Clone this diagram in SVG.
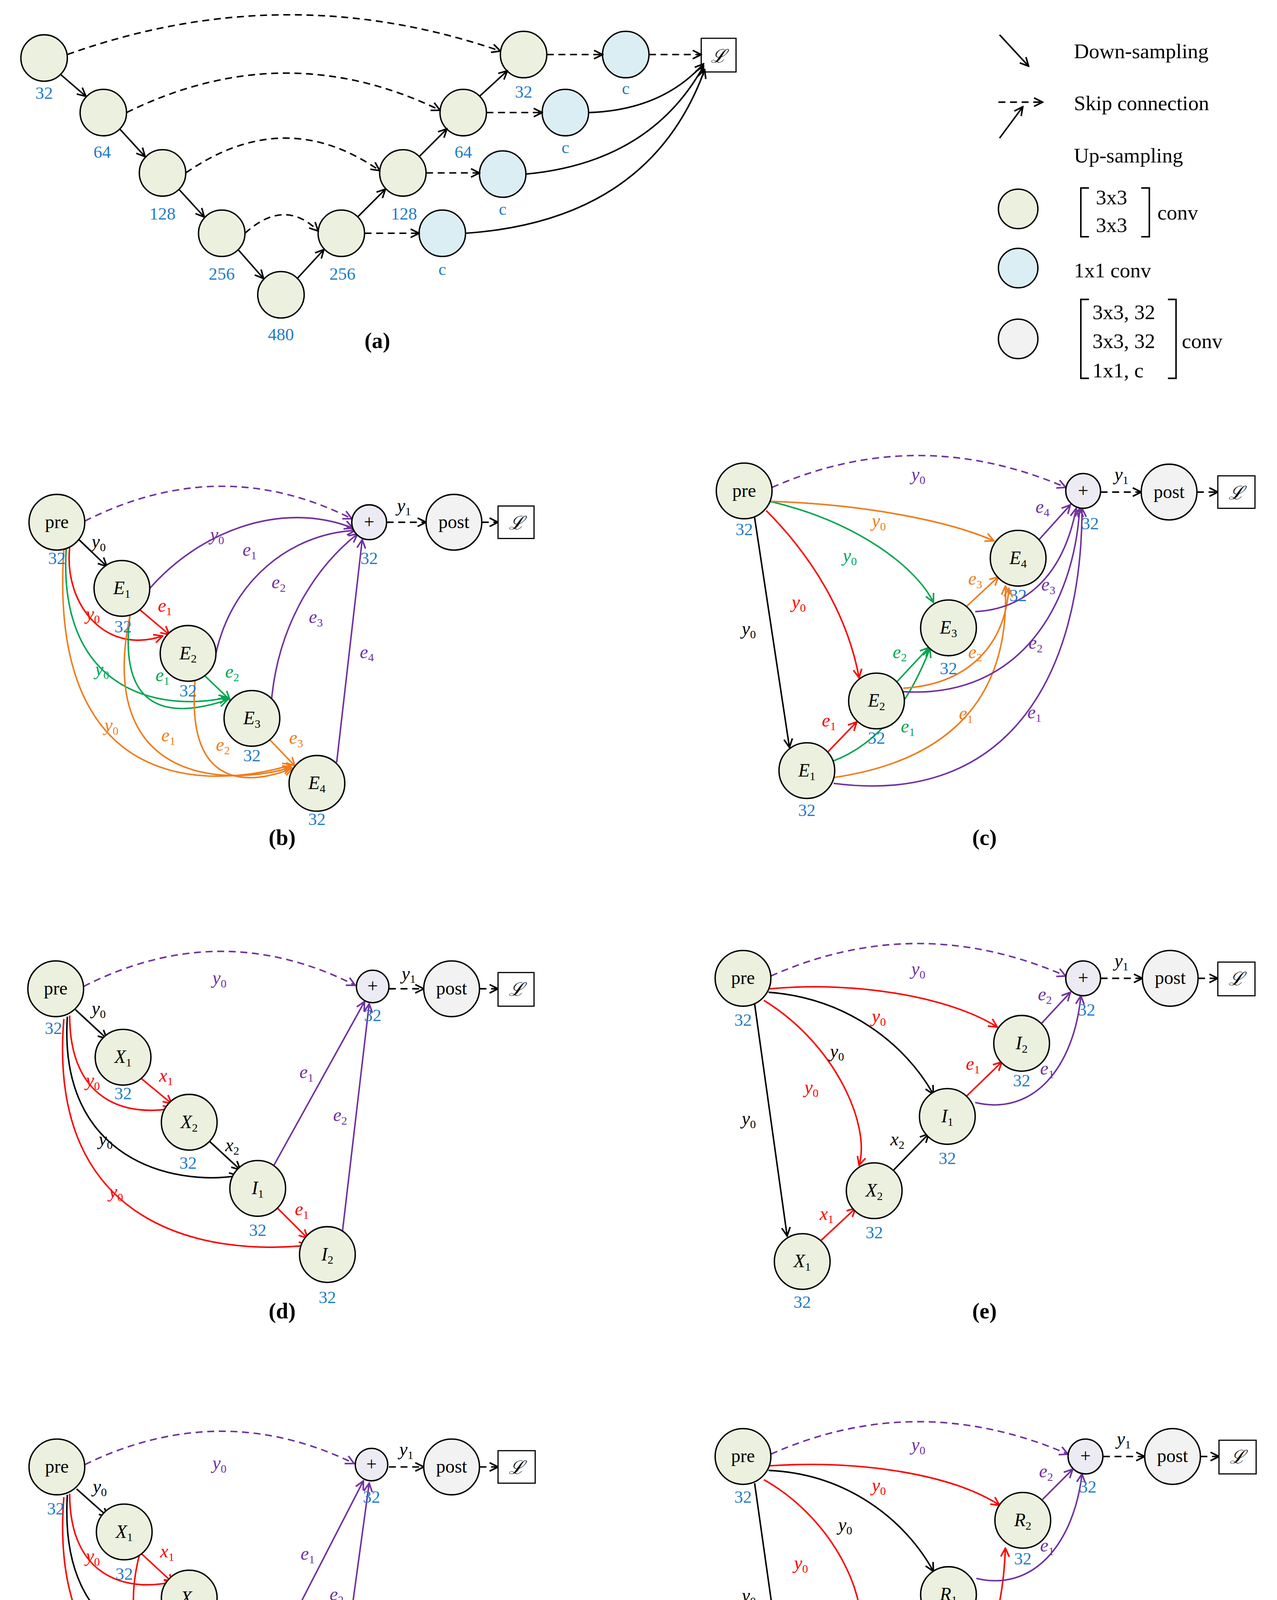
<svg xmlns="http://www.w3.org/2000/svg" width="3268" height="4659" viewBox="0 0 3268 4659">
<style>
text{font-family:"Liberation Serif",serif;font-size:16px;text-anchor:middle}
.n{fill:#1f7bc8;font-size:15px}
.i{font-style:italic}
.s{font-size:10px;font-style:normal}
.b{font-weight:bold;font-size:19px}
.lg{text-anchor:start;font-size:18px}
.g{fill:#ebf1de;stroke:#000;stroke-width:1.2}
.c{fill:#dbeef4;stroke:#000;stroke-width:1.2}
.w{fill:#f2f2f2;stroke:#000;stroke-width:1.2}
.p{fill:#ecebf3;stroke:#000;stroke-width:1.2}
.e{fill:none;stroke-width:1.3}
.k{stroke:#000}.r{stroke:#f00}.gr{stroke:#00a650}.o{stroke:#ee7d1e}.pu{stroke:#7030a0}
.d{stroke-dasharray:6 4}
.tr{fill:#f00}.tg{fill:#00a650}.to{fill:#ee7d1e}.tp{fill:#7030a0}
</style>
<defs>
<marker id="mk" viewBox="0 0 10 10" refX="9" refY="5" markerWidth="7" markerHeight="7" orient="auto"><path d="M1,1L9,5L1,9" fill="none" stroke="#000" stroke-width="1.5"/></marker>
<marker id="mr" viewBox="0 0 10 10" refX="9" refY="5" markerWidth="7" markerHeight="7" orient="auto"><path d="M1,1L9,5L1,9" fill="none" stroke="#f00" stroke-width="1.5"/></marker>
<marker id="mg" viewBox="0 0 10 10" refX="9" refY="5" markerWidth="7" markerHeight="7" orient="auto"><path d="M1,1L9,5L1,9" fill="none" stroke="#00a650" stroke-width="1.5"/></marker>
<marker id="mo" viewBox="0 0 10 10" refX="9" refY="5" markerWidth="7" markerHeight="7" orient="auto"><path d="M1,1L9,5L1,9" fill="none" stroke="#ee7d1e" stroke-width="1.5"/></marker>
<marker id="mp" viewBox="0 0 10 10" refX="9" refY="5" markerWidth="7" markerHeight="7" orient="auto"><path d="M1,1L9,5L1,9" fill="none" stroke="#7030a0" stroke-width="1.5"/></marker>
</defs>
<rect width="3268" height="4659" fill="#fff"/>
<g transform="scale(2.971)">
<!-- Panel a -->
<g id="a-nodes">
<g id="a1"><circle class="g" cx="38" cy="50" r="20"/><text class="n" x="38" y="85">32</text></g>
<g id="a2"><circle class="g" cx="89" cy="97" r="20"/><text class="n" x="88" y="136">64</text></g>
<g id="a3"><circle class="g" cx="140" cy="149" r="20"/><text class="n" x="140" y="189">128</text></g>
<g id="a4"><circle class="g" cx="191" cy="201" r="20"/><text class="n" x="191" y="241">256</text></g>
<g id="a5"><circle class="g" cx="242" cy="254" r="20"/><text class="n" x="242" y="293">480</text></g>
<g id="a6"><circle class="g" cx="294" cy="201" r="20"/><text class="n" x="295" y="241">256</text></g>
<g id="a7"><circle class="g" cx="347" cy="149" r="20"/><text class="n" x="348" y="189">128</text></g>
<g id="a8"><circle class="g" cx="399" cy="97" r="20"/><text class="n" x="399" y="136">64</text></g>
<g id="a9"><circle class="g" cx="451" cy="47" r="20"/><text class="n" x="451" y="84">32</text></g>
<g id="ac1"><circle class="c" cx="539" cy="47" r="20"/><text class="n" x="539" y="81">c</text></g>
<g id="ac2"><circle class="c" cx="487" cy="97" r="20"/><text class="n" x="487" y="132">c</text></g>
<g id="ac3"><circle class="c" cx="433" cy="150" r="20"/><text class="n" x="433" y="185">c</text></g>
<g id="ac4"><circle class="c" cx="381" cy="201" r="20"/><text class="n" x="381" y="237">c</text></g>
<g id="aL"><rect x="604" y="33" width="30" height="29" fill="#fff" stroke="#000"/><text class="i" x="619" y="54" font-size="19">ℒ</text></g>
</g>
<g id="a-edges">
<path class="e k" marker-end="url(#mk)" d="M52,64L74,83"/>
<path class="e k" marker-end="url(#mk)" d="M103,111L125,135"/>
<path class="e k" marker-end="url(#mk)" d="M154,163L176,187"/>
<path class="e k" marker-end="url(#mk)" d="M205,215L227,240"/>
<path class="e k" marker-end="url(#mk)" d="M256,240L279,215"/>
<path class="e k" marker-end="url(#mk)" d="M308,187L332,163"/>
<path class="e k" marker-end="url(#mk)" d="M361,135L385,111"/>
<path class="e k" marker-end="url(#mk)" d="M413,83L437,61"/>
<path class="e k d" marker-end="url(#mk)" d="M58,47Q245,-20 431,44"/>
<path class="e k d" marker-end="url(#mk)" d="M109,97Q245,30 379,95"/>
<path class="e k d" marker-end="url(#mk)" d="M160,149Q245,90 327,147"/>
<path class="e k d" marker-end="url(#mk)" d="M211,201Q245,170 274,199"/>
<path class="e k d" marker-end="url(#mk)" d="M471,47H519"/>
<path class="e k d" marker-end="url(#mk)" d="M419,97H467"/>
<path class="e k d" marker-end="url(#mk)" d="M367,149H413"/>
<path class="e k d" marker-end="url(#mk)" d="M314,201H361"/>
<path class="e k d" marker-end="url(#mk)" d="M559,47H604"/>
<path class="e k" marker-end="url(#mk)" d="M507,97Q570,95 606,55"/>
<path class="e k" marker-end="url(#mk)" d="M453,150Q560,140 606,57"/>
<path class="e k" marker-end="url(#mk)" d="M401,201Q560,190 607,60"/>
</g>
<text class="b" x="325" y="300">(a)</text>
<!-- legend -->
<g id="legend">
<path class="e k" marker-end="url(#mk)" d="M861,30L886,57"/>
<path class="e k d" marker-end="url(#mk)" d="M860,88H898"/>
<path class="e k" marker-end="url(#mk)" d="M861,119L881,92"/>
<text class="lg" x="925" y="50">Down-sampling</text>
<text class="lg" x="925" y="95">Skip connection</text>
<text class="lg" x="925" y="140">Up-sampling</text>
<circle class="g" cx="877" cy="180" r="17"/><circle class="c" cx="877" cy="231" r="17"/><circle class="w" cx="877" cy="292" r="17"/>
<path d="M938,162H931V204H938M983,162H990V204H983M938,258H931V326H938M1006,258H1013V326H1006" fill="none" stroke="#000" stroke-width="1.3"/>
<text class="lg" x="944" y="176">3x3</text><text class="lg" x="944" y="200">3x3</text><text class="lg" x="997" y="189">conv</text>
<text class="lg" x="925" y="239">1x1 conv</text>
<text class="lg" x="941" y="275">3x3, 32</text><text class="lg" x="941" y="300">3x3, 32</text><text class="lg" x="941" y="325">1x1, c</text><text class="lg" x="1018" y="300">conv</text>
</g>

<!-- Panel b -->
<g id="b-edges">
<path class="e pu d" marker-end="url(#mp)" d="M73,449Q190,390 303,447"/>
<path class="e k" marker-end="url(#mk)" d="M68,465L92,488"/>
<path class="e k d" marker-end="url(#mk)" d="M333,450H367"/>
<path class="e k d" marker-end="url(#mk)" d="M415,450H429"/>
<path class="e r" marker-end="url(#mr)" d="M60,472C55,520 90,565 140,548"/>
<path class="e r" marker-end="url(#mr)" d="M120,525L146,547"/>
<path class="e gr" marker-end="url(#mg)" d="M57,473C50,590 130,615 196,601"/>
<path class="e gr" marker-end="url(#mg)" d="M112,530C100,625 160,615 196,603"/>
<path class="e gr" marker-end="url(#mg)" d="M175,581L198,603"/>
<path class="e o" marker-end="url(#mo)" d="M55,473C40,700 200,675 251,659"/>
<path class="e o" marker-end="url(#mo)" d="M112,530C80,685 210,675 251,661"/>
<path class="e o" marker-end="url(#mo)" d="M168,587C160,685 220,675 252,662"/>
<path class="e o" marker-end="url(#mo)" d="M232,637L254,660"/>
<path class="e pu" marker-end="url(#mp)" d="M129,507C170,460 240,430 304,455"/>
<path class="e pu" marker-end="url(#mp)" d="M186,563C200,500 250,460 306,457"/>
<path class="e pu" marker-end="url(#mp)" d="M234,602C240,540 270,490 308,460"/>
<path class="e pu" marker-end="url(#mp)" d="M290,657L312,465"/>
</g>
<g id="b-nodes">
<g id="b-pre"><circle class="g" cx="49" cy="450" r="24"/><text x="49" y="455">pre</text><text class="n" x="49" y="486">32</text></g>
<g id="b-E1"><circle class="g" cx="105" cy="507" r="24"/><text class="i" x="105" y="512">E<tspan class="s" dy="3">1</tspan></text><text class="n" x="106" y="545">32</text></g>
<g id="b-E2"><circle class="g" cx="162" cy="563" r="24"/><text class="i" x="162" y="568">E<tspan class="s" dy="3">2</tspan></text><text class="n" x="162" y="600">32</text></g>
<g id="b-E3"><circle class="g" cx="217" cy="619" r="24"/><text class="i" x="217" y="624">E<tspan class="s" dy="3">3</tspan></text><text class="n" x="217" y="656">32</text></g>
<g id="b-E4"><circle class="g" cx="273" cy="675" r="24"/><text class="i" x="273" y="680">E<tspan class="s" dy="3">4</tspan></text><text class="n" x="273" y="711">32</text></g>
<g id="b-plus"><circle class="p" cx="318" cy="450" r="15"/><text x="318" y="455">+</text><text class="n" x="318" y="486">32</text></g>
<g id="b-post"><circle class="w" cx="391" cy="450" r="24"/><text x="391" y="455">post</text></g>
<g id="b-L"><rect x="429" y="436" width="31" height="28" fill="#fff" stroke="#000"/><text class="i" x="445" y="456" font-size="19">ℒ</text></g>
</g>
<g id="b-labels" class="i">
<text x="348" y="441">y<tspan class="s" dy="3">1</tspan></text>
<text class="tp" x="187" y="466">y<tspan class="s" dy="3">0</tspan></text>
<text x="85" y="472">y<tspan class="s" dy="3">0</tspan></text>
<text class="tr" x="80" y="534">y<tspan class="s" dy="3">0</tspan></text>
<text class="tr" x="142" y="527">e<tspan class="s" dy="3">1</tspan></text>
<text class="tg" x="88" y="582">y<tspan class="s" dy="3">0</tspan></text>
<text class="tg" x="140" y="587">e<tspan class="s" dy="3">1</tspan></text>
<text class="tg" x="200" y="584">e<tspan class="s" dy="3">2</tspan></text>
<text class="to" x="96" y="630">y<tspan class="s" dy="3">0</tspan></text>
<text class="to" x="145" y="639">e<tspan class="s" dy="3">1</tspan></text>
<text class="to" x="192" y="647">e<tspan class="s" dy="3">2</tspan></text>
<text class="to" x="255" y="641">e<tspan class="s" dy="3">3</tspan></text>
<text class="tp" x="215" y="479">e<tspan class="s" dy="3">1</tspan></text>
<text class="tp" x="240" y="507">e<tspan class="s" dy="3">2</tspan></text>
<text class="tp" x="272" y="537">e<tspan class="s" dy="3">3</tspan></text>
<text class="tp" x="316" y="567">e<tspan class="s" dy="3">4</tspan></text>
</g>
<text class="b" x="243" y="728">(b)</text>

<!-- Panel c -->
<g id="c-edges">
<path class="e pu d" marker-end="url(#mp)" d="M665,420Q790,365 918,420"/>
<path class="e k d" marker-end="url(#mk)" d="M948,424H983"/>
<path class="e k d" marker-end="url(#mk)" d="M1031,424H1049"/>
<path class="e k" marker-end="url(#mk)" d="M650,446L680,644"/>
<path class="e r" marker-end="url(#mr)" d="M660,440C700,480 730,530 740,584"/>
<path class="e r" marker-end="url(#mr)" d="M713,648L738,622"/>
<path class="e gr" marker-end="url(#mg)" d="M663,432C740,450 790,490 804,519"/>
<path class="e gr" marker-end="url(#mg)" d="M717,656C760,640 785,600 801,559"/>
<path class="e gr" marker-end="url(#mg)" d="M772,588L800,558"/>
<path class="e o" marker-end="url(#mo)" d="M665,432C750,435 820,450 856,466"/>
<path class="e o" marker-end="url(#mo)" d="M718,670C820,655 870,600 866,505"/>
<path class="e o" marker-end="url(#mo)" d="M778,593C830,590 865,560 869,507"/>
<path class="e o" marker-end="url(#mo)" d="M832,523L860,497"/>
<path class="e pu" marker-end="url(#mp)" d="M895,465L922,435"/>
<path class="e pu" marker-end="url(#mp)" d="M840,527C880,525 915,500 927,438"/>
<path class="e pu" marker-end="url(#mp)" d="M778,596C880,602 925,520 930,438"/>
<path class="e pu" marker-end="url(#mp)" d="M718,675C870,695 932,580 932,438"/>
</g>
<g id="c-nodes">
<g id="c-pre"><circle class="g" cx="641" cy="423" r="24"/><text x="641" y="428">pre</text><text class="n" x="641" y="461">32</text></g>
<g id="c-E1"><circle class="g" cx="695" cy="664" r="24"/><text class="i" x="695" y="669">E<tspan class="s" dy="3">1</tspan></text><text class="n" x="695" y="703">32</text></g>
<g id="c-E2"><circle class="g" cx="755" cy="604" r="24"/><text class="i" x="755" y="609">E<tspan class="s" dy="3">2</tspan></text><text class="n" x="755" y="641">32</text></g>
<g id="c-E3"><circle class="g" cx="817" cy="541" r="24"/><text class="i" x="817" y="546">E<tspan class="s" dy="3">3</tspan></text><text class="n" x="817" y="581">32</text></g>
<g id="c-E4"><circle class="g" cx="877" cy="481" r="24"/><text class="i" x="877" y="486">E<tspan class="s" dy="3">4</tspan></text><text class="n" x="877" y="518">32</text></g>
<g id="c-plus"><circle class="p" cx="933" cy="423" r="15"/><text x="933" y="428">+</text><text class="n" x="939" y="456">32</text></g>
<g id="c-post"><circle class="w" cx="1007" cy="424" r="24"/><text x="1007" y="429">post</text></g>
<g id="c-L"><rect x="1049" y="410" width="32" height="28" fill="#fff" stroke="#000"/><text class="i" x="1065" y="430" font-size="19">ℒ</text></g>
</g>
<g id="c-labels" class="i">
<text x="966" y="414">y<tspan class="s" dy="3">1</tspan></text>
<text class="tp" x="791" y="414">y<tspan class="s" dy="3">0</tspan></text>
<text x="645" y="547">y<tspan class="s" dy="3">0</tspan></text>
<text class="tr" x="688" y="524">y<tspan class="s" dy="3">0</tspan></text>
<text class="tr" x="714" y="626">e<tspan class="s" dy="3">1</tspan></text>
<text class="tg" x="732" y="484">y<tspan class="s" dy="3">0</tspan></text>
<text class="tg" x="782" y="631">e<tspan class="s" dy="3">1</tspan></text>
<text class="tg" x="775" y="567">e<tspan class="s" dy="3">2</tspan></text>
<text class="to" x="757" y="454">y<tspan class="s" dy="3">0</tspan></text>
<text class="to" x="832" y="620">e<tspan class="s" dy="3">1</tspan></text>
<text class="to" x="840" y="567">e<tspan class="s" dy="3">2</tspan></text>
<text class="to" x="840" y="504">e<tspan class="s" dy="3">3</tspan></text>
<text class="tp" x="898" y="442">e<tspan class="s" dy="3">4</tspan></text>
<text class="tp" x="903" y="509">e<tspan class="s" dy="3">3</tspan></text>
<text class="tp" x="892" y="559">e<tspan class="s" dy="3">2</tspan></text>
<text class="tp" x="891" y="619">e<tspan class="s" dy="3">1</tspan></text>
</g>
<text class="b" x="848" y="728">(c)</text>

<!-- Panel d -->
<g id="d-edges">
<path class="e pu d" marker-end="url(#mp)" d="M72,850Q190,790 306,849"/>
<path class="e k d" marker-end="url(#mk)" d="M335,852H365"/>
<path class="e k d" marker-end="url(#mk)" d="M413,852H429"/>
<path class="e k" marker-end="url(#mk)" d="M65,870L92,895"/>
<path class="e r" marker-end="url(#mr)" d="M60,875C60,950 110,962 148,955"/>
<path class="e r" marker-end="url(#mr)" d="M120,928L148,951"/>
<path class="e k" marker-end="url(#mk)" d="M58,876C50,1000 150,1022 205,1013"/>
<path class="e k" marker-end="url(#mk)" d="M180,983L207,1008"/>
<path class="e r" marker-end="url(#mr)" d="M55,878C40,1060 180,1082 265,1073"/>
<path class="e r" marker-end="url(#mr)" d="M238,1040L265,1067"/>
<path class="e pu" marker-end="url(#mp)" d="M236,1004L314,863"/>
<path class="e pu" marker-end="url(#mp)" d="M295,1061L318,865"/>
</g>
<g id="d-nodes">
<g id="d-pre"><circle class="g" cx="48" cy="852" r="24"/><text x="48" y="857">pre</text><text class="n" x="46" y="891">32</text></g>
<g id="d-X1"><circle class="g" cx="106" cy="911" r="24"/><text class="i" x="106" y="916">X<tspan class="s" dy="3">1</tspan></text><text class="n" x="106" y="947">32</text></g>
<g id="d-X2"><circle class="g" cx="163" cy="967" r="24"/><text class="i" x="163" y="972">X<tspan class="s" dy="3">2</tspan></text><text class="n" x="162" y="1007">32</text></g>
<g id="d-I1"><circle class="g" cx="222" cy="1024" r="24"/><text class="i" x="222" y="1029">I<tspan class="s" dy="3">1</tspan></text><text class="n" x="222" y="1065">32</text></g>
<g id="d-I2"><circle class="g" cx="282" cy="1081" r="24"/><text class="i" x="282" y="1086">I<tspan class="s" dy="3">2</tspan></text><text class="n" x="282" y="1123">32</text></g>
<g id="d-plus"><circle class="p" cx="321" cy="850" r="14"/><text x="321" y="855">+</text><text class="n" x="321" y="880">32</text></g>
<g id="d-post"><circle class="w" cx="389" cy="852" r="24"/><text x="389" y="857">post</text></g>
<g id="d-L"><rect x="429" y="838" width="31" height="29" fill="#fff" stroke="#000"/><text class="i" x="445" y="858" font-size="19">ℒ</text></g>
</g>
<g id="d-labels" class="i">
<text x="352" y="844">y<tspan class="s" dy="3">1</tspan></text>
<text class="tp" x="189" y="848">y<tspan class="s" dy="3">0</tspan></text>
<text x="85" y="874">y<tspan class="s" dy="3">0</tspan></text>
<text class="tr" x="80" y="936">y<tspan class="s" dy="3">0</tspan></text>
<text class="tr" x="143" y="932">x<tspan class="s" dy="3">1</tspan></text>
<text x="91" y="987">y<tspan class="s" dy="3">0</tspan></text>
<text x="200" y="992">x<tspan class="s" dy="3">2</tspan></text>
<text class="tr" x="100" y="1032">y<tspan class="s" dy="3">0</tspan></text>
<text class="tr" x="260" y="1047">e<tspan class="s" dy="3">1</tspan></text>
<text class="tp" x="264" y="929">e<tspan class="s" dy="3">1</tspan></text>
<text class="tp" x="293" y="966">e<tspan class="s" dy="3">2</tspan></text>
</g>
<text class="b" x="243" y="1136">(d)</text>

<!-- Panel e -->
<g id="e-edges">
<path class="e pu d" marker-end="url(#mp)" d="M664,841Q790,785 918,841"/>
<path class="e k d" marker-end="url(#mk)" d="M948,843H984"/>
<path class="e k d" marker-end="url(#mk)" d="M1032,843H1049"/>
<path class="e k" marker-end="url(#mk)" d="M650,865L678,1065"/>
<path class="e r" marker-end="url(#mr)" d="M658,862C720,900 750,970 740,1004"/>
<path class="e r" marker-end="url(#mr)" d="M706,1070L737,1041"/>
<path class="e k" marker-end="url(#mk)" d="M768,1010L800,977"/>
<path class="e k" marker-end="url(#mk)" d="M662,855C730,860 780,900 804,943"/>
<path class="e r" marker-end="url(#mr)" d="M663,852C740,845 820,860 859,885"/>
<path class="e r" marker-end="url(#mr)" d="M832,945L863,915"/>
<path class="e pu" marker-end="url(#mp)" d="M897,882L922,855"/>
<path class="e pu" marker-end="url(#mp)" d="M840,950C890,962 925,920 931,858"/>
</g>
<g id="e-nodes">
<g id="e-pre"><circle class="g" cx="640" cy="843" r="24"/><text x="640" y="848">pre</text><text class="n" x="640" y="884">32</text></g>
<g id="e-X1"><circle class="g" cx="691" cy="1087" r="24"/><text class="i" x="691" y="1092">X<tspan class="s" dy="3">1</tspan></text><text class="n" x="691" y="1127">32</text></g>
<g id="e-X2"><circle class="g" cx="753" cy="1026" r="24"/><text class="i" x="753" y="1031">X<tspan class="s" dy="3">2</tspan></text><text class="n" x="753" y="1067">32</text></g>
<g id="e-I1"><circle class="g" cx="816" cy="962" r="24"/><text class="i" x="816" y="967">I<tspan class="s" dy="3">1</tspan></text><text class="n" x="816" y="1003">32</text></g>
<g id="e-I2"><circle class="g" cx="880" cy="899" r="24"/><text class="i" x="880" y="904">I<tspan class="s" dy="3">2</tspan></text><text class="n" x="880" y="936">32</text></g>
<g id="e-plus"><circle class="p" cx="933" cy="843" r="15"/><text x="933" y="848">+</text><text class="n" x="936" y="875">32</text></g>
<g id="e-post"><circle class="w" cx="1008" cy="843" r="24"/><text x="1008" y="848">post</text></g>
<g id="e-L"><rect x="1049" y="829" width="32" height="29" fill="#fff" stroke="#000"/><text class="i" x="1065" y="849" font-size="19">ℒ</text></g>
</g>
<g id="e-labels" class="i">
<text x="966" y="833">y<tspan class="s" dy="3">1</tspan></text>
<text class="tp" x="791" y="840">y<tspan class="s" dy="3">0</tspan></text>
<text x="645" y="969">y<tspan class="s" dy="3">0</tspan></text>
<text class="tr" x="699" y="942">y<tspan class="s" dy="3">0</tspan></text>
<text class="tr" x="712" y="1051">x<tspan class="s" dy="3">1</tspan></text>
<text x="773" y="987">x<tspan class="s" dy="3">2</tspan></text>
<text x="721" y="911">y<tspan class="s" dy="3">0</tspan></text>
<text class="tr" x="757" y="881">y<tspan class="s" dy="3">0</tspan></text>
<text class="tr" x="838" y="922">e<tspan class="s" dy="3">1</tspan></text>
<text class="tp" x="900" y="862">e<tspan class="s" dy="3">2</tspan></text>
<text class="tp" x="902" y="926">e<tspan class="s" dy="3">1</tspan></text>
</g>
<text class="b" x="848" y="1136">(e)</text>

<!-- Panel f -->
<g id="f-edges">
<path class="e pu d" marker-end="url(#mp)" d="M73,1262Q190,1205 305,1261"/>
<path class="e k d" marker-end="url(#mk)" d="M335,1264H365"/>
<path class="e k d" marker-end="url(#mk)" d="M413,1264H429"/>
<path class="e k" marker-end="url(#mk)" d="M66,1283L93,1307"/>
<path class="e r" marker-end="url(#mr)" d="M60,1287C60,1360 110,1372 149,1363"/>
<path class="e r" marker-end="url(#mr)" d="M121,1338L149,1364"/>
<path class="e k" marker-end="url(#mk)" d="M58,1288C50,1420 150,1432 208,1421"/>
<path class="e k" marker-end="url(#mk)" d="M180,1393L208,1418"/>
<path class="e r" marker-end="url(#mr)" d="M55,1290C40,1480 190,1492 259,1478"/>
<path class="e r" marker-end="url(#mr)" d="M120,1340C90,1460 200,1482 259,1476"/>
<path class="e pu" marker-end="url(#mp)" d="M240,1418L313,1276"/>
<path class="e pu" marker-end="url(#mp)" d="M292,1468L318,1278"/>
</g>
<g id="f-nodes">
<g id="f-pre"><circle class="g" cx="49" cy="1264" r="24"/><text x="49" y="1269">pre</text><text class="n" x="48" y="1305">32</text></g>
<g id="f-X1"><circle class="g" cx="107" cy="1320" r="24"/><text class="i" x="107" y="1325">X<tspan class="s" dy="3">1</tspan></text><text class="n" x="107" y="1361">32</text></g>
<g id="f-X2"><circle class="g" cx="163" cy="1377" r="24"/><text class="i" x="163" y="1382">X<tspan class="s" dy="3">2</tspan></text><text class="n" x="162" y="1417">32</text></g>
<g id="f-R1"><circle class="g" cx="223" cy="1435" r="24"/><text class="i" x="223" y="1440">R<tspan class="s" dy="3">1</tspan></text><text class="n" x="223" y="1474">32</text></g>
<g id="f-R2"><circle class="g" cx="277" cy="1489" r="24"/><text class="i" x="277" y="1494">R<tspan class="s" dy="3">2</tspan></text><text class="n" x="277" y="1529">32</text></g>
<g id="f-plus"><circle class="p" cx="320" cy="1262" r="14"/><text x="320" y="1267">+</text><text class="n" x="320" y="1295">32</text></g>
<g id="f-post"><circle class="w" cx="389" cy="1264" r="24"/><text x="389" y="1269">post</text></g>
<g id="f-L"><rect x="429" y="1250" width="32" height="28" fill="#fff" stroke="#000"/><text class="i" x="445" y="1270" font-size="19">ℒ</text></g>
</g>
<g id="f-labels" class="i">
<text x="350" y="1254">y<tspan class="s" dy="3">1</tspan></text>
<text class="tp" x="189" y="1266">y<tspan class="s" dy="3">0</tspan></text>
<text x="86" y="1286">y<tspan class="s" dy="3">0</tspan></text>
<text class="tr" x="80" y="1346">y<tspan class="s" dy="3">0</tspan></text>
<text class="tr" x="144" y="1342">x<tspan class="s" dy="3">1</tspan></text>
<text x="92" y="1397">y<tspan class="s" dy="3">0</tspan></text>
<text x="200" y="1401">x<tspan class="s" dy="3">2</tspan></text>
<text class="tr" x="97" y="1444">y<tspan class="s" dy="3">0</tspan></text>
<text class="tr" x="150" y="1448">x<tspan class="s" dy="3">1</tspan></text>
<text class="tp" x="265" y="1344">e<tspan class="s" dy="3">1</tspan></text>
<text class="tp" x="290" y="1379">e<tspan class="s" dy="3">2</tspan></text>
</g>
<text class="b" x="243" y="1546">(f)</text>

<!-- Panel g -->
<g id="g-edges">
<path class="e pu d" marker-end="url(#mp)" d="M664,1253Q790,1197 920,1253"/>
<path class="e k d" marker-end="url(#mk)" d="M950,1255H986"/>
<path class="e k d" marker-end="url(#mk)" d="M1034,1255H1050"/>
<path class="e k" marker-end="url(#mk)" d="M650,1278L678,1476"/>
<path class="e r" marker-end="url(#mr)" d="M658,1275C720,1310 750,1380 740,1416"/>
<path class="e r" marker-end="url(#mr)" d="M708,1482L738,1452"/>
<path class="e k" marker-end="url(#mk)" d="M770,1421L800,1389"/>
<path class="e k" marker-end="url(#mk)" d="M662,1267C730,1270 780,1310 804,1354"/>
<path class="e r" marker-end="url(#mr)" d="M663,1263C740,1258 820,1270 861,1297"/>
<path class="e r" marker-end="url(#mr)" d="M715,1482C820,1482 862,1440 866,1334"/>
<path class="e pu" marker-end="url(#mp)" d="M898,1292L924,1266"/>
<path class="e pu" marker-end="url(#mp)" d="M841,1360C890,1372 925,1330 932,1270"/>
</g>
<g id="g-nodes">
<g id="g-pre"><circle class="g" cx="640" cy="1255" r="24"/><text x="640" y="1260">pre</text><text class="n" x="640" y="1295">32</text></g>
<g id="g-X1"><circle class="g" cx="692" cy="1498" r="24"/><text class="i" x="692" y="1503">X<tspan class="s" dy="3">1</tspan></text><text class="n" x="692" y="1537">32</text></g>
<g id="g-X2"><circle class="g" cx="754" cy="1437" r="24"/><text class="i" x="754" y="1442">X<tspan class="s" dy="3">2</tspan></text><text class="n" x="754" y="1477">32</text></g>
<g id="g-R1"><circle class="g" cx="817" cy="1374" r="24"/><text class="i" x="817" y="1379">R<tspan class="s" dy="3">1</tspan></text><text class="n" x="817" y="1412">32</text></g>
<g id="g-R2"><circle class="g" cx="881" cy="1310" r="24"/><text class="i" x="881" y="1315">R<tspan class="s" dy="3">2</tspan></text><text class="n" x="881" y="1348">32</text></g>
<g id="g-plus"><circle class="p" cx="935" cy="1255" r="15"/><text x="935" y="1260">+</text><text class="n" x="937" y="1286">32</text></g>
<g id="g-post"><circle class="w" cx="1010" cy="1255" r="24"/><text x="1010" y="1260">post</text></g>
<g id="g-L"><rect x="1050" y="1241" width="32" height="29" fill="#fff" stroke="#000"/><text class="i" x="1066" y="1261" font-size="19">ℒ</text></g>
</g>
<g id="g-labels" class="i">
<text x="968" y="1245">y<tspan class="s" dy="3">1</tspan></text>
<text class="tp" x="791" y="1250">y<tspan class="s" dy="3">0</tspan></text>
<text x="645" y="1380">y<tspan class="s" dy="3">0</tspan></text>
<text class="tr" x="690" y="1352">y<tspan class="s" dy="3">0</tspan></text>
<text class="tr" x="712" y="1461">x<tspan class="s" dy="3">1</tspan></text>
<text x="775" y="1397">x<tspan class="s" dy="3">2</tspan></text>
<text x="728" y="1319">y<tspan class="s" dy="3">0</tspan></text>
<text class="tr" x="757" y="1285">y<tspan class="s" dy="3">0</tspan></text>
<text class="tr" x="818" y="1439">x<tspan class="s" dy="3">1</tspan></text>
<text class="tp" x="901" y="1273">e<tspan class="s" dy="3">2</tspan></text>
<text class="tp" x="902" y="1337">e<tspan class="s" dy="3">1</tspan></text>
</g>
<text class="b" x="848" y="1546">(g)</text>
</g>
</svg>
